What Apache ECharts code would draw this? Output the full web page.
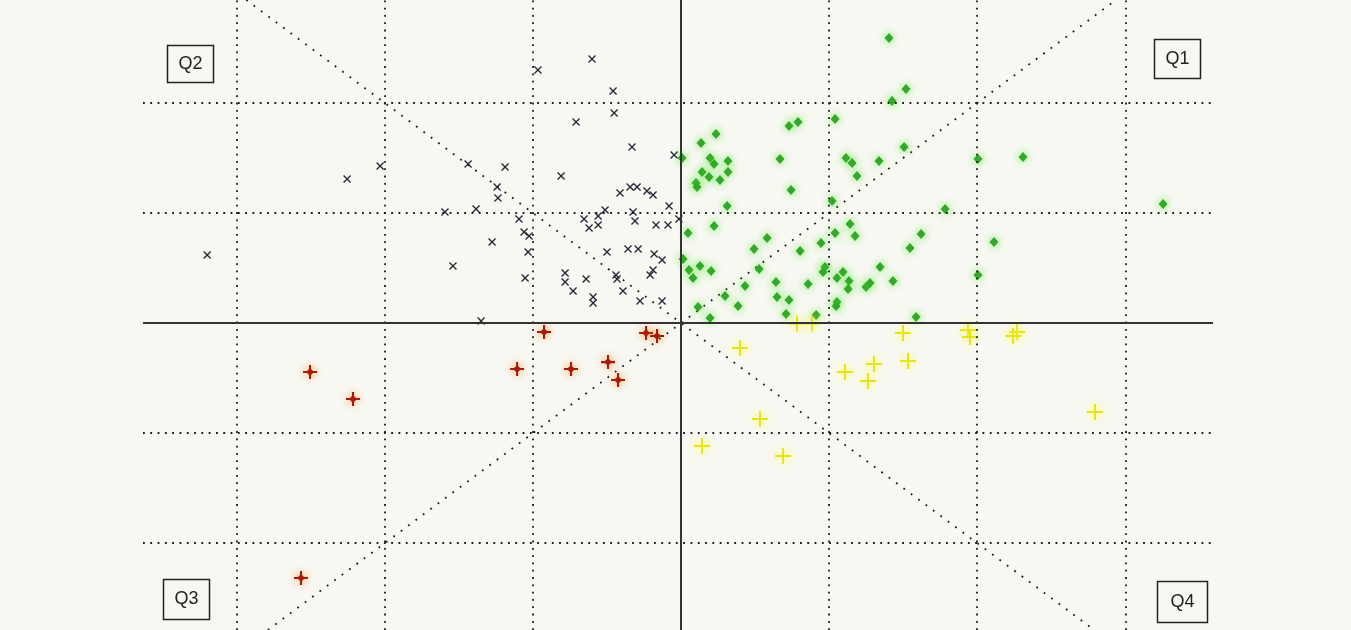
<!DOCTYPE html>
<html>
<head>
<meta charset="utf-8">
<script src="https://cdn.jsdelivr.net/npm/echarts@6/dist/echarts.min.js"></script>
<style>
html,body{margin:0;padding:0;background:#f8f8f3;}
#chart{width:1351px;height:630px;}
</style>
</head>
<body>
<div id="chart"></div>
<script>
// Axis extents (data units; one grid cell = 1 unit)
const xRange = [-3.633, 3.592];
const yRange = [-2.79, 2.936];
// Dotted grid line positions
const gridX = [-3, -2, -1, 1, 2, 3];
const gridY = [-2, -1, 1, 2];
// Quadrant labels
const quadLabels = ['Q1', 'Q2', 'Q3', 'Q4'];

// Q2: x marks
const q2Points = [
  [-2.255,1.309],[-2.032,1.427],[-3.200,0.618],[-0.966,2.300],[-0.601,2.400],
  [-0.459,2.109],[-0.452,1.909],[-0.709,1.827],[-0.331,1.600],[-0.047,1.527],
  [-1.438,1.445],[-1.188,1.418],[-0.810,1.336],[-1.242,1.236],[-1.236,1.136],
  [-1.594,1.009],[-1.384,1.036],[-1.094,0.945],[-1.060,0.827],[-1.026,0.791],
  [-1.276,0.736],[-1.033,0.645],[-1.540,0.518],[-1.053,0.409],[-1.350,0.018],
  [-0.412,1.182],[-0.344,1.236],[-0.297,1.236],[-0.230,1.200],[-0.189,1.164],
  [-0.081,1.064],[-0.014,0.945],[-0.324,1.009],[-0.311,0.927],[-0.169,0.891],
  [-0.088,0.891],[-0.655,0.945],[-0.621,0.864],[-0.560,0.973],[-0.560,0.891],
  [-0.513,1.027],[-0.500,0.645],[-0.358,0.673],[-0.290,0.673],[-0.182,0.627],
  [-0.128,0.573],[-0.189,0.482],[-0.209,0.436],[-0.783,0.455],[-0.783,0.373],
  [-0.729,0.291],[-0.641,0.400],[-0.439,0.436],[-0.432,0.400],[-0.392,0.291],
  [-0.594,0.236],[-0.594,0.182],[-0.277,0.200],[-0.128,0.200]
];
// Q1: green diamonds
const q1Points = [
  [0.007,1.500],[1.404,2.591],[1.425,2.018],[1.519,2.127],[1.040,1.855],
  [0.729,1.791],[0.790,1.827],[0.236,1.718],[0.135,1.636],[0.196,1.500],
  [0.223,1.445],[0.317,1.473],[0.142,1.373],[0.317,1.373],[0.189,1.327],
  [0.668,1.491],[1.114,1.500],[1.155,1.455],[1.337,1.473],[1.188,1.336],
  [0.263,1.300],[0.101,1.273],[0.108,1.236],[0.743,1.209],[0.311,1.064],
  [1.020,1.109],[0.223,0.882],[0.047,0.818],[0.581,0.773],[0.493,0.673],
  [0.804,0.655],[0.945,0.727],[1.040,0.818],[1.141,0.900],[1.175,0.791],
  [0.014,0.582],[0.054,0.482],[0.128,0.518],[0.203,0.473],[0.081,0.409],
  [0.527,0.491],[0.432,0.336],[0.641,0.373],[0.858,0.355],[0.972,0.509],
  [0.959,0.464],[1.053,0.409],[1.094,0.464],[1.134,0.382],[1.128,0.309],
  [1.249,0.327],[1.276,0.364],[1.344,0.509],[1.431,0.382],[0.297,0.245],
  [0.648,0.236],[0.729,0.209],[0.385,0.155],[0.115,0.145],[1.053,0.191],
  [1.047,0.155],[0.196,0.045],[0.709,0.082],[0.912,0.073],[1.506,1.600],
  [2.005,1.491],[2.309,1.509],[3.255,1.082],[1.783,1.036],[1.621,0.809],
  [1.546,0.682],[2.113,0.736],[2.005,0.436],[1.587,0.055]
];
// Q3: red asterisks
const q3Points = [
  [-2.505,-0.445],[-2.215,-0.691],[-1.107,-0.418],[-0.925,-0.082],[-0.743,-0.418],
  [-0.493,-0.355],[-0.425,-0.518],[-0.236,-0.091],[-0.162,-0.118],[-2.566,-2.318]
];
// Q4: yellow plus marks
const q4Points = [
  [0.783,-0.005],[0.885,-0.005],[0.398,-0.227],[1.499,-0.091],[1.938,-0.064],
  [1.951,-0.127],[2.269,-0.082],[2.242,-0.118],[1.107,-0.445],[1.303,-0.373],
  [1.263,-0.527],[1.533,-0.345],[2.795,-0.809],[0.533,-0.873],[0.142,-1.118],
  [0.689,-1.209]
];

const chart = echarts.init(document.getElementById('chart'), null, {renderer:'canvas'});

const dotStyle = {color:'#1a1a1a', width:1.8, type:[1.8, 5.5]};
const diagStyle = {color:'#1a1a1a', width:1.8, type:[1.8, 7.4]};
const axisStyle = {color:'#333', width:2, type:'solid'};

const diagUp = [[yRange[0], yRange[0]], [yRange[1], yRange[1]]];
const diagDown = [[-yRange[1], yRange[1]], [-yRange[0], yRange[0]]];

const gridLines = gridX.map(v => ({xAxis: v, lineStyle: dotStyle}))
  .concat(gridY.map(v => ({yAxis: v, lineStyle: dotStyle})))
  .concat([{xAxis: 0, lineStyle: axisStyle}, {yAxis: 0, lineStyle: axisStyle}]);

const xPath = 'path://M0,1.2L1.2,0L5,3.8L8.8,0L10,1.2L6.2,5L10,8.8L8.8,10L5,6.2L1.2,10L0,8.8L3.8,5Z';
const starPath = 'path://M5.1,0H6.9V5.1H12V6.9H6.9V12H5.1V6.9H0V5.1H5.1ZM6,2.6L9.4,6L6,9.4L2.6,6Z';
const plusPath = 'path://M4.4,0H5.6V4.4H10V5.6H5.6V10H4.4V5.6H0V4.4H4.4Z';

function box(label, x, y, w, h) {
  return {
    type: 'group', left: x, top: y,
    children: [
      {type:'rect', shape:{x:0, y:0, width:w, height:h},
       style:{fill:'none', stroke:'#222', lineWidth:1.5}},
      {type:'text', style:{text:label, x:w/2, y:h/2, textAlign:'center', textVerticalAlign:'middle',
        font:'18px "Liberation Sans", Arial, sans-serif', fill:'#222'}}
    ]
  };
}

chart.setOption({
  animation: false,
  backgroundColor: '#f8f8f3',
  grid: {left:143, right:138, top:0, bottom:0, containLabel:false},
  xAxis: {type:'value', min:xRange[0], max:xRange[1], show:false, splitLine:{show:false}},
  yAxis: {type:'value', min:yRange[0], max:yRange[1], show:false, splitLine:{show:false}},
  graphic: [
    box(quadLabels[0], 1152, 37, 46, 39),
    box(quadLabels[1], 165, 43, 46, 37),
    box(quadLabels[2], 161, 577, 46, 40),
    box(quadLabels[3], 1155, 579, 50, 41)
  ],
  series: [
    {type:'line', data: diagUp, symbol:'none', silent:true, lineStyle: diagStyle, z:1,
     markLine: {silent:true, symbol:['none','none'], label:{show:false}, data: gridLines, animation:false}},
    {type:'line', data: diagDown, symbol:'none', silent:true, lineStyle: diagStyle, z:1},
    {type:'scatter', name:'Q2', data:q2Points, symbol:xPath, symbolSize:8, z:3,
     itemStyle:{color:'#2a2a3c', opacity:1}},
    {type:'scatter', name:'Q1', data:q1Points, symbol:'diamond', symbolSize:[9,10], z:3,
     itemStyle:{color:'#34a82a', shadowBlur:8, shadowColor:'rgba(70,235,30,0.9)', opacity:1}},
    {type:'scatter', name:'Q3', data:q3Points, symbol:starPath, symbolSize:14, z:3,
     itemStyle:{color:'#a81a0c', shadowBlur:8, shadowColor:'rgba(255,140,20,0.85)', opacity:1}},
    {type:'scatter', name:'Q4', data:q4Points, symbol:plusPath, symbolSize:16, z:3,
     itemStyle:{color:'#e4e41a', shadowBlur:9, shadowColor:'rgba(255,255,40,0.95)', opacity:1}}
  ]
});
</script>
</body>
</html>
